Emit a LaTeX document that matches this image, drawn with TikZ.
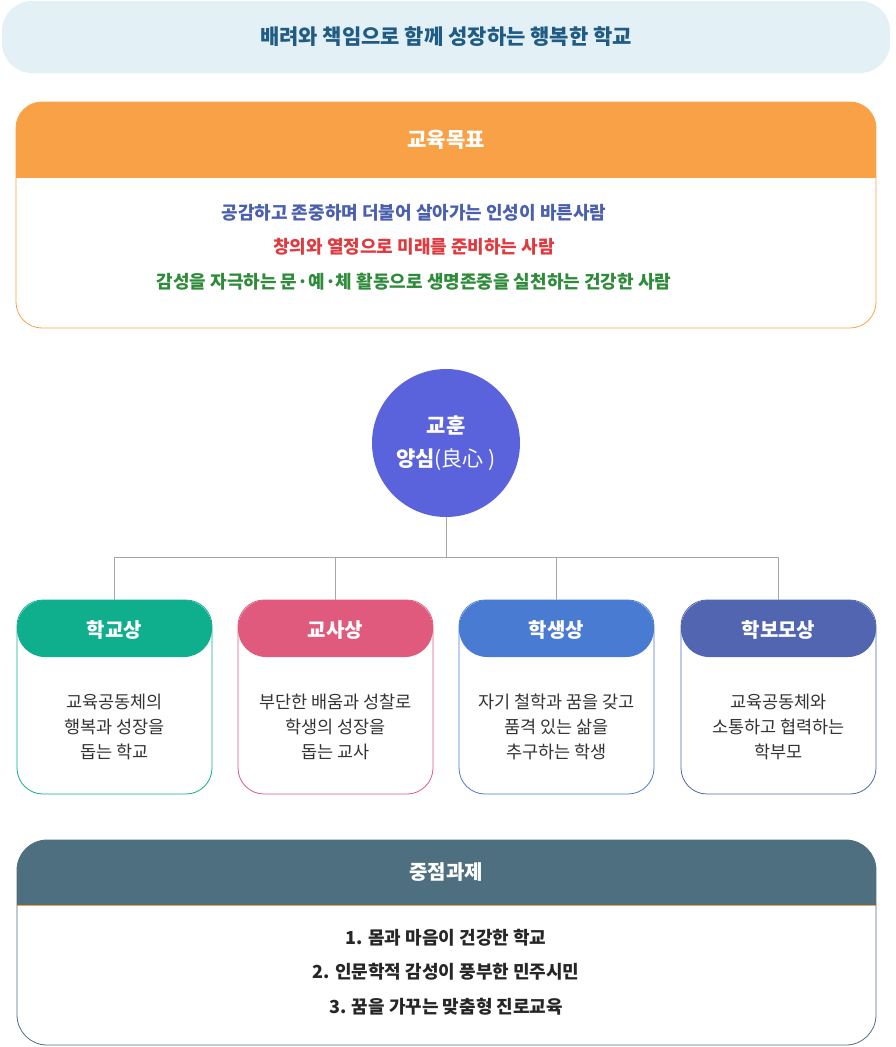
\documentclass[tikz,border=0pt]{standalone}
\usepackage{fontspec}
\setmainfont{Noto Sans CJK KR}
\usetikzlibrary{positioning, calc}
\definecolor{bannerbg}{HTML}{E3F1F6}
\definecolor{bannertx}{HTML}{1F5B84}
\definecolor{goalor}{HTML}{F9A146}
\definecolor{goalblue}{HTML}{4A5FAE}
\definecolor{goalred}{HTML}{E0393E}
\definecolor{goalgreen}{HTML}{2E8B3A}
\definecolor{motto}{HTML}{5B63DC}
\definecolor{cteal}{HTML}{0FAE8C}
\definecolor{cpink}{HTML}{E05A7D}
\definecolor{cblue}{HTML}{4A7BD3}
\definecolor{cindigo}{HTML}{5165B0}
\definecolor{taskhd}{HTML}{4E6F80}
\definecolor{bodytx}{HTML}{333333}
\tikzstyle{head} = [font=\bfseries\fontsize{20}{24}\selectfont, text=white]
\tikzstyle{body} = [font=\fontsize{17.5}{25}\selectfont, text=bodytx, align=center]
\tikzstyle{goal} = [font=\bfseries\fontsize{18}{22}\selectfont]
\tikzstyle{task} = [font=\bfseries\fontsize{18}{22}\selectfont, text=black!85]
\tikzstyle{link} = [draw=black!35, line width=0.8pt]

\begin{document}
\begin{tikzpicture}[x=1pt, y=-1pt]
	\useasboundingbox (0,0) rectangle (895,1047);

	% Banner
	\fill[bannerbg, rounded corners=30pt] (2,1) rectangle (890,73);
	\node (banner) [font=\bfseries\fontsize{21}{24}\selectfont, text=bannertx] at (446,37) {배려와 책임으로 함께 성장하는 행복한 학교};

	% Goals
	\begin{scope}
		\clip[rounded corners=26pt] (16,102) rectangle (876,328);
		\fill[goalor] (16,102) rectangle (876,178);
	\end{scope}
	\draw[goalor, line width=0.8pt, rounded corners=26pt] (16,102) rectangle (876,328);
	\node (goalhd) [head, font=\bfseries\fontsize{21}{24}\selectfont] at (446,140) {교육목표};
	\node (goal1) [goal, text=goalblue] at (414,213) {공감하고 존중하며 더불어 살아가는 인성이 바른사람};
	\node (goal2) [goal, text=goalred] at (414,247) {창의와 열정으로 미래를 준비하는 사람};
	\node (goal3) [goal, text=goalgreen] at (414,282) {감성을 자극하는 문·예·체 활동으로 생명존중을 실천하는 건강한 사람};

	% Motto
	\node (motto) [circle, fill=motto, minimum size=148pt, text=white, align=center,
		font=\bfseries\fontsize{21}{33}\selectfont] at (446,443) {교훈\\양심{\mdseries(良心 )}};
	\coordinate (fork) at (446,557);
	\draw[link] (motto.south) -- (fork);

	% Cards
	\foreach \x/\c/\name/\t [count=\i] in {
		17/cteal/학교상/{교육공동체의\\행복과 성장을\\돕는 학교},
		238/cpink/교사상/{부단한 배움과 성찰로\\학생의 성장을\\돕는 교사},
		459/cblue/학생상/{자기 철학과 꿈을 갖고\\품격 있는 삶을\\추구하는 학생},
		681/cindigo/학보모상/{교육공동체와\\소통하고 협력하는\\학부모}} {
		\draw[\c, line width=0.8pt, rounded corners=26pt] (\x,600) rectangle (\x+195,794);
		\fill[\c, rounded corners=28pt] (\x,600) rectangle (\x+195,657);
		\node (card\i) [head] at (\x+97.5,630) {\name};
		\node (text\i) [body] at (\x+97.5,727) {\t};
		\draw[link] (fork) -| (\x+97.5,600);
	}

	% Tasks
	\begin{scope}
		\clip[rounded corners=30pt] (17,840) rectangle (876,1045);
		\fill[taskhd] (17,840) rectangle (876,905);
	\end{scope}
	\draw[goalor, line width=0.6pt] (17,905) -- (876,905);
	\draw[taskhd, line width=0.8pt, rounded corners=30pt] (17,840) rectangle (876,1045);
	\node (taskhd) [head] at (446,872) {중점과제};
	\node (task1) [task] at (446,938) {1. 몸과 마음이 건강한 학교};
	\node (task2) [task] at (446,972) {2. 인문학적 감성이 풍부한 민주시민};
	\node (task3) [task] at (446,1007) {3. 꿈을 가꾸는 맞춤형 진로교육};

\end{tikzpicture}
\end{document}
